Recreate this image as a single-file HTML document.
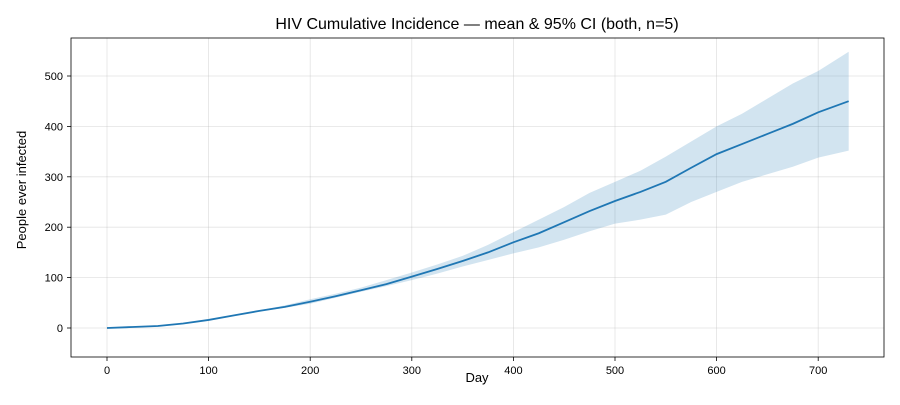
<!DOCTYPE html>
<html><head><meta charset="utf-8"><style>
body{margin:0;background:#fff;font-family:"Liberation Sans",sans-serif;}
svg text{font-family:"Liberation Sans",sans-serif;fill:#000;}
</style></head><body>
<svg id="chart" width="900" height="400">
<text x="477" y="29" font-size="16" text-anchor="middle">HIV Cumulative Incidence — mean &amp; 95% CI (both, n=5)</text>
<g id="grid"></g>
<path id="band" fill="#1f77b4" fill-opacity="0.2"></path>
<path id="line" fill="none" stroke="#1f77b4" stroke-width="1.8"></path>
<rect x="71" y="38" width="813" height="319" fill="none" stroke="#000" stroke-width="0.8"/>
<g id="ticks"></g>
<text x="477" y="382" font-size="13" text-anchor="middle">Day</text>
<text transform="translate(26,190) rotate(-90)" font-size="13" text-anchor="middle">People ever infected</text>
</svg>
<script>
const days=[0,25,50,75,100,125,150,175,200,225,250,275,300,325,350,375,400,425,450,475,500,525,550,575,600,625,650,675,700,730];
const meanVals=[0,2,4,9,16,25,34,42,52,63,75,87,102,117,133,150,170,188,210,232,252,270,290,318,345,365,385,405,428,450];
const lowerVals=[0,2,4,9,16,24,33,40,48,60,72,83,95,108,122,135,148,160,175,192,207,215,225,250,270,290,305,320,338,352];
const upperVals=[0,2,5,10,17,26,35,45,57,68,80,95,110,126,143,165,190,215,240,268,290,312,340,370,400,425,455,485,510,548];
const xTicks=[0,100,200,300,400,500,600,700];
const yTicks=[0,100,200,300,400,500];
const X=d=>107+d*1.016, Y=v=>328-v*0.504;
const ns="http://www.w3.org/2000/svg";
const grid=document.getElementById('grid'), ticks=document.getElementById('ticks');
function el(t,a,p){const e=document.createElementNS(ns,t);for(const k in a)e.setAttribute(k,a[k]);p.appendChild(e);return e;}
xTicks.forEach(t=>{const x=X(t);
 const g=el('line',{x1:x,x2:x,y1:38,y2:357,stroke:'#b0b0b0','stroke-opacity':0.35,'stroke-width':0.8},grid);
 
 const tk=el('line',{x1:x,x2:x,y1:357,y2:361,stroke:'#000','stroke-width':0.8},ticks);
 
 const tx=el('text',{x:x,y:374,'font-size':11,'text-anchor':'middle'},ticks);tx.textContent=t;
 });
yTicks.forEach(t=>{const y=Y(t);
 const g=el('line',{x1:71,x2:884,y1:y,y2:y,stroke:'#b0b0b0','stroke-opacity':0.35,'stroke-width':0.8},grid);
 
 const tk=el('line',{x1:67,x2:71,y1:y,y2:y,stroke:'#000','stroke-width':0.8},ticks);
 
 const tx=el('text',{x:63,y:y+4,'font-size':11,'text-anchor':'end'},ticks);tx.textContent=t;
 });
let b='M'+days.map((d,i)=>X(d)+','+Y(upperVals[i])).join('L');
b+='L'+days.map((d,i)=>X(d)+','+Y(lowerVals[i])).reverse().join('L')+'Z';
document.getElementById('band').setAttribute('d',b);
document.getElementById('line').setAttribute('d','M'+days.map((d,i)=>X(d)+','+Y(meanVals[i])).join('L'));
</script>
</body></html>
